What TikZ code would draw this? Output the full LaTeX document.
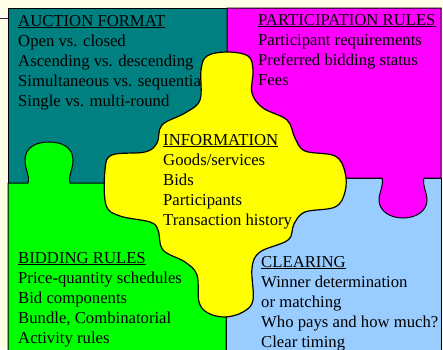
\documentclass[tikz,border=0pt]{standalone}
\usepackage{fontspec}
\setmainfont{Liberation Serif}
\definecolor{bgcream}{HTML}{FFFFE8}
\definecolor{fmtteal}{HTML}{008080}
\definecolor{partmagenta}{HTML}{FF00FF}
\definecolor{bidgreen}{HTML}{00FF00}
\definecolor{clearblue}{HTML}{99CCFF}
\definecolor{infoyellow}{HTML}{FFFF00}
\definecolor{edgepurple}{HTML}{4A1A4A}
\tikzset{
  piece/.style={draw=black, line width=1pt},
  txt/.style={anchor=base west, inner sep=0pt, font=\fontsize{16.7}{20}\selectfont},
}
\begin{document}
\begin{tikzpicture}[x=1pt,y=-1pt]
      \fill[bgcream] (0,0) rectangle (443,349);
      \useasboundingbox (0,0) rectangle (443,349);
      \draw[edgepurple, line width=1pt] (0,18) -- (8,18);
      \draw[piece, fill=fmtteal] (8,8) rectangle (227,184);
      \draw[piece, fill=clearblue] (226,178) rectangle (441,352);
      \draw[piece, fill=bidgreen] (8,183) -- (28,183)
        .. controls (30,175) and (25,170) .. (25,160)
        .. controls (25,148) and (35,142) .. (49,142)
        .. controls (63,142) and (73,148) .. (73,160)
        .. controls (73,170) and (68,175) .. (70,183)
        -- (226,183) -- (226,352) -- (8,352) -- cycle;
      \draw[piece, fill=partmagenta] (227,8) -- (441,8) -- (441,178) -- (424,178)
        .. controls (422,186) and (427,192) .. (427,200)
        .. controls (427,211) and (416,218) .. (403,218)
        .. controls (390,218) and (379,211) .. (379,200)
        .. controls (379,192) and (384,186) .. (382,178)
        -- (227,178) -- cycle;
      \node[txt] (fmt) at (18,26) {\underline{AUCTION FORMAT}};
      \node[txt] (fmt1) at (18,46) {Open vs. closed};
      \node[txt] (fmt2) at (18,66) {Ascending vs. descending};
      \node[txt] (fmt3) at (18,86) {Simultaneous vs. sequential};
      \node[txt] (fmt4) at (18,106) {Single vs. multi-round};
      \node[txt] (part) at (258,25) {\underline{PARTICIPATION RULES}};
      \node[txt] (part1) at (258,45) {Participant requirements};
      \node[txt] (part2) at (258,65) {Preferred bidding status};
      \node[txt] (part3) at (258,85) {Fees};
      \node[txt] (bid) at (18,263) {\underline{BIDDING RULES}};
      \node[txt] (bid1) at (18,283) {Price-quantity schedules};
      \node[txt] (bid2) at (18,303) {Bid components};
      \node[txt] (bid3) at (18,323) {Bundle, Combinatorial};
      \node[txt] (bid4) at (18,343) {Activity rules};
      \node[txt] (clr) at (261,267) {\underline{CLEARING}};
      \node[txt] (clr1) at (261,287) {Winner determination};
      \node[txt] (clr2) at (261,307) {or matching};
      \node[txt] (clr3) at (261,327) {Who pays and how much?};
      \node[txt] (clr4) at (261,347) {Clear timing};
      \draw[piece, line width=1.2pt, fill=infoyellow] plot[smooth cycle, tension=0.6] coordinates {
        (227,52) (248,56) (253,70) (252,93) (263,108) (287,120) (295,138) (305,151)
        (335,156) (345,172) (345,192) (335,207) (305,212) (294,224) (288,240) (260,252)
        (252,268) (253,300) (243,312) (225,317) (208,313) (199,302) (197,275) (185,262)
        (163,250) (158,230) (150,222) (120,216) (106,205) (105,170) (112,155) (145,152)
        (157,143) (162,125) (185,113) (200,100) (201,70) (207,56)};
      \node[txt] (info) at (163,145) {\underline{INFORMATION}};
      \node[txt] (info1) at (163,165) {Goods/services};
      \node[txt] (info2) at (163,185) {Bids};
      \node[txt] (info3) at (163,205) {Participants};
      \node[txt] (info4) at (163,225) {Transaction history};
    \end{tikzpicture}
\end{document}
